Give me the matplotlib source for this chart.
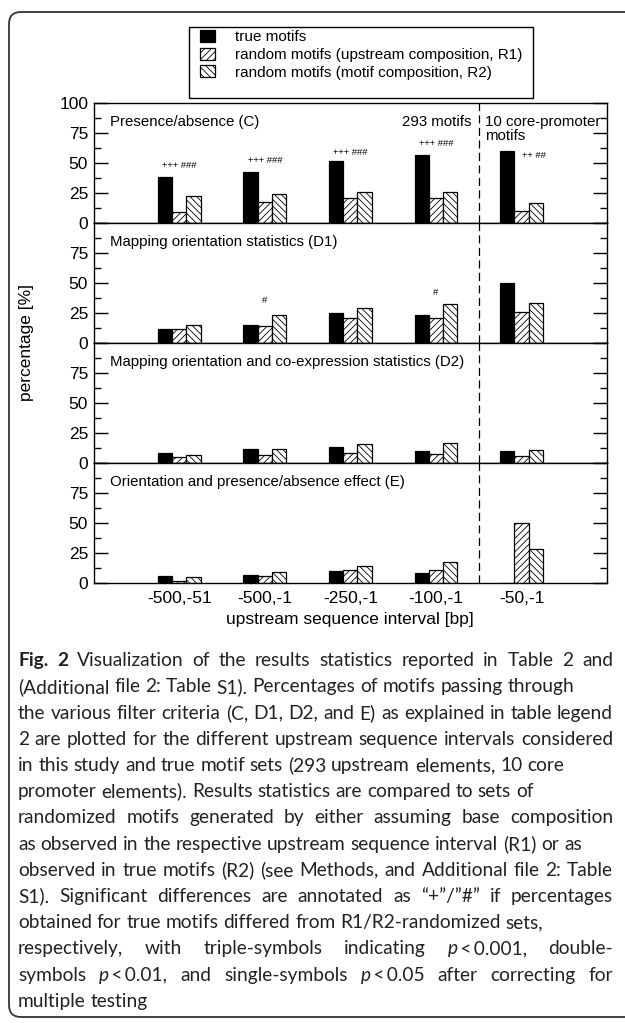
import matplotlib
matplotlib.use("Agg")
import matplotlib.pyplot as plt
from matplotlib.patches import FancyBboxPatch, Rectangle
from matplotlib.transforms import IdentityTransform
from matplotlib.ticker import MultipleLocator

# ---------------- data ----------------
intervals = ["-500,-51", "-500,-1", "-250,-1", "-100,-1", "-50,-1"]
series_names = ["true motifs",
                "random motifs (upstream composition, R1)",
                "random motifs (motif composition, R2)"]
panel_titles = ["Presence/absence (C)",
                "Mapping orientation statistics (D1)",
                "Mapping orientation and co-expression statistics (D2)",
                "Orientation and presence/absence effect (E)"]

true_C = [38.3, 42.5, 51.0, 56.7, 60.0]
r1_C = [9.2, 17.5, 20.6, 20.6, 10.0]
r2_C = [22.2, 23.9, 25.9, 25.9, 16.7]

true_D1 = [11.2, 15.0, 25.0, 23.3, 50.0]
r1_D1 = [11.2, 13.9, 20.3, 20.8, 25.3]
r2_D1 = [15.0, 22.8, 28.6, 32.2, 33.3]

true_D2 = [7.8, 11.1, 12.8, 10.0, 10.0]
r1_D2 = [4.4, 6.1, 8.4, 7.2, 5.6]
r2_D2 = [6.7, 11.7, 15.6, 16.1, 10.3]

true_E = [5.6, 6.7, 10.0, 8.4, 0.0]
r1_E = [1.1, 5.3, 10.6, 10.6, 50.0]
r2_E = [4.4, 9.2, 13.9, 17.2, 28.3]

sig_C = ["+++ ###", "+++ ###", "+++ ###", "+++ ###", "++ ##"]
sig_C_y = [48.0, 51.7, 58.9, 65.6, 55.8]
sig_D1 = ["", "#", "", "#", ""]
sig_D1_y = [0, 35.0, 0, 42.2, 0]

panels = [(true_C, r1_C, r2_C), (true_D1, r1_D1, r2_D1),
          (true_D2, r1_D2, r2_D2), (true_E, r1_E, r2_E)]

caption_lines = [
    ([("Fig. 2", "bold"), (" Visualization of the results statistics reported in Table 2 and", "normal")], True),
    ([("(Additional file 2: Table S1). Percentages of motifs passing through", "normal")], False),
    ([("the various filter criteria (C, D1, D2, and E) as explained in table legend", "normal")], True),
    ([("2 are plotted for the different upstream sequence intervals considered", "normal")], True),
    ([("in this study and true motif sets (293 upstream elements, 10 core", "normal")], False),
    ([("promoter elements). Results statistics are compared to sets of", "normal")], False),
    ([("randomized motifs generated by either assuming base composition", "normal")], True),
    ([("as observed in the respective upstream sequence interval (R1) or as", "normal")], False),
    ([("observed in true motifs (R2) (see Methods, and Additional file 2: Table", "normal")], True),
    ([("S1). Significant differences are annotated as \u201c+\u201d/\u201d#\u201d if percentages", "normal")], True),
    ([("obtained for true motifs differed from R1/R2-randomized sets,", "normal")], False),
    ([("respectively, with triple-symbols indicating ", "normal"), ("p", "italic"),
      ("\u2009<\u20090.001, double-", "normal")], True),
    ([("symbols ", "normal"), ("p", "italic"), ("\u2009<\u20090.01, and single-symbols ", "normal"),
      ("p", "italic"), ("\u2009<\u20090.05 after correcting for", "normal")], True),
    ([("multiple testing", "normal")], False),
]

# ---------------- figure ----------------
W, H = 625, 1023
plt.rcParams["font.family"] = ["Liberation Sans", "DejaVu Sans"]
plt.rcParams["hatch.linewidth"] = 0.6
fig = plt.figure(figsize=(W / 100, H / 100), dpi=100)

left_px, right_px = 93.7, 607.0
panel_top = 102.7
panel_h = 120.0
bar_w = 1 / 6
x = list(range(1, len(intervals) + 1))

axes = []
for i, (tv, r1, r2) in enumerate(panels):
    top = panel_top + i * panel_h
    ax = fig.add_axes([left_px / W, 1 - (top + panel_h) / H,
                       (right_px - left_px) / W, panel_h / H])
    axes.append(ax)
    b0 = ax.bar([xi - bar_w for xi in x], tv, width=bar_w, color="black",
                edgecolor="black", linewidth=0.9, label=series_names[0])
    b1 = ax.bar(x, r1, width=bar_w, color="white", edgecolor="black",
                hatch="/////", linewidth=0.9, label=series_names[1])
    b2 = ax.bar([xi + bar_w for xi in x], r2, width=bar_w, color="white",
                edgecolor="black", hatch="\\\\\\\\\\", linewidth=0.9,
                label=series_names[2])
    ax.set_xlim(0, 6)
    ax.set_ylim(0, 100)
    ax.axvline(4.5, color="black", linewidth=0.9, dashes=(6.5, 3.5))
    ax.set_yticks([0, 25, 50, 75, 100])
    if i == 0:
        ax.set_yticklabels(["0", "25", "50", "75", "100"])
    else:
        ax.set_yticklabels(["0", "25", "50", "75", ""])
    ax.yaxis.set_minor_locator(MultipleLocator(12.5))
    ax.tick_params(axis="y", which="major", direction="in", length=10,
                   width=1.0, right=True, labelsize=12.5, pad=4)
    ax.tick_params(axis="y", which="minor", direction="in", length=5,
                   width=1.0, right=True)
    ax.tick_params(axis="x", length=0)
    if i < 3:
        ax.set_xticks([])
    else:
        ax.set_xticks(x)
        ax.set_xticklabels(intervals)
        ax.tick_params(axis="x", labelsize=12.5, pad=6)
        ax.set_xlabel("upstream sequence interval [bp]", fontsize=12.5,
                      labelpad=4)
    for s in ax.spines.values():
        s.set_linewidth(1.0)
    ax.text((110.3 - left_px) / (right_px - left_px), 1 - 19 / panel_h,
            panel_titles[i], transform=ax.transAxes, fontsize=10.8,
            va="center", ha="left")
    if i == 0:
        handles = [b0, b1, b2]

ax0 = axes[0]
for xi, s, yv in zip(x, sig_C, sig_C_y):
    xo = xi + (0.15 if s == "++ ##" else 0.0)
    ax0.text(xo, yv, s, fontsize=6.8, ha="center", va="center")
ax0.text(4.42, 1 - 19 / panel_h, "293 motifs", transform=ax0.get_xaxis_transform(),
         fontsize=10.8, ha="right", va="center")
ax0.text(4.57, 1 - 19 / panel_h, "10 core-promoter", transform=ax0.get_xaxis_transform(),
         fontsize=10.8, ha="left", va="center")
ax0.text(4.57, 1 - 33 / panel_h, "motifs", transform=ax0.get_xaxis_transform(),
         fontsize=10.8, ha="left", va="center")
for xi, s, yv in zip(x, sig_D1, sig_D1_y):
    if s:
        axes[1].text(xi, yv, s, fontsize=6.8, ha="center", va="center")

fig.text(27 / W, 1 - 342.7 / H, "percentage [%]", rotation=90, fontsize=12.5,
         ha="center", va="center")

# legend
leg = fig.legend(handles, series_names, loc="upper left",
                 bbox_to_anchor=(200.5 / W, 1 - 30 / H), frameon=False,
                 fontsize=11, handlelength=0.92, handleheight=0.83,
                 handletextpad=1.35, labelspacing=0.22, borderpad=0,
                 borderaxespad=0)
fig.add_artist(Rectangle((189.3, H - 98.3), 533.3 - 189.3, 98.3 - 27.3,
                         transform=IdentityTransform(), fill=False,
                         edgecolor="black", linewidth=1.0))

# outer frame
fig.add_artist(FancyBboxPatch((9, H - 1017), 700, 1017 - 12,
                              boxstyle="round,pad=0,rounding_size=12",
                              transform=IdentityTransform(), fill=False,
                              edgecolor="#333333", linewidth=1.3))

# caption
cap_font = ["Lato", "DejaVu Sans"]
cap_fs = 13.8
cap_left, cap_right = 18.0, 613.0
cap_y0, cap_dy = 660.7, 26.2
renderer = fig.canvas.get_renderer()


def make(s, style, xx=0, yy=0):
    kw = dict(fontsize=cap_fs, family=cap_font, va="center", ha="left",
              transform=IdentityTransform(), color="#222222")
    if style == "bold":
        kw["fontweight"] = "bold"
    if style == "italic":
        kw["fontstyle"] = "italic"
    return fig.text(xx, yy, s, **kw)


def width(s, style):
    t = make("a" + s + "a", style)
    t2 = make("aa", style)
    w = t.get_window_extent(renderer).width - t2.get_window_extent(renderer).width
    t.remove()
    t2.remove()
    return w


space_w = width(" ", "normal")
for li, (segs, justify) in enumerate(caption_lines):
    words, cur = [], []
    for text, style in segs:
        parts = text.split(" ")
        for k, part in enumerate(parts):
            if k > 0 and cur:
                words.append(cur)
                cur = []
            if part:
                cur.append((part, style))
    if cur:
        words.append(cur)
    wlist = [sum(width(p, st) for p, st in w) for w in words]
    gap = space_w
    if justify and len(words) > 1:
        gap = (cap_right - cap_left - sum(wlist)) / (len(words) - 1)
    yy = H - (cap_y0 + li * cap_dy)
    xx = cap_left
    for w, ww in zip(words, wlist):
        px = xx
        for p, st in w:
            make(p, st, px, yy)
            px += width(p, st)
        xx += ww + gap

fig.savefig("out.png", dpi=100)
